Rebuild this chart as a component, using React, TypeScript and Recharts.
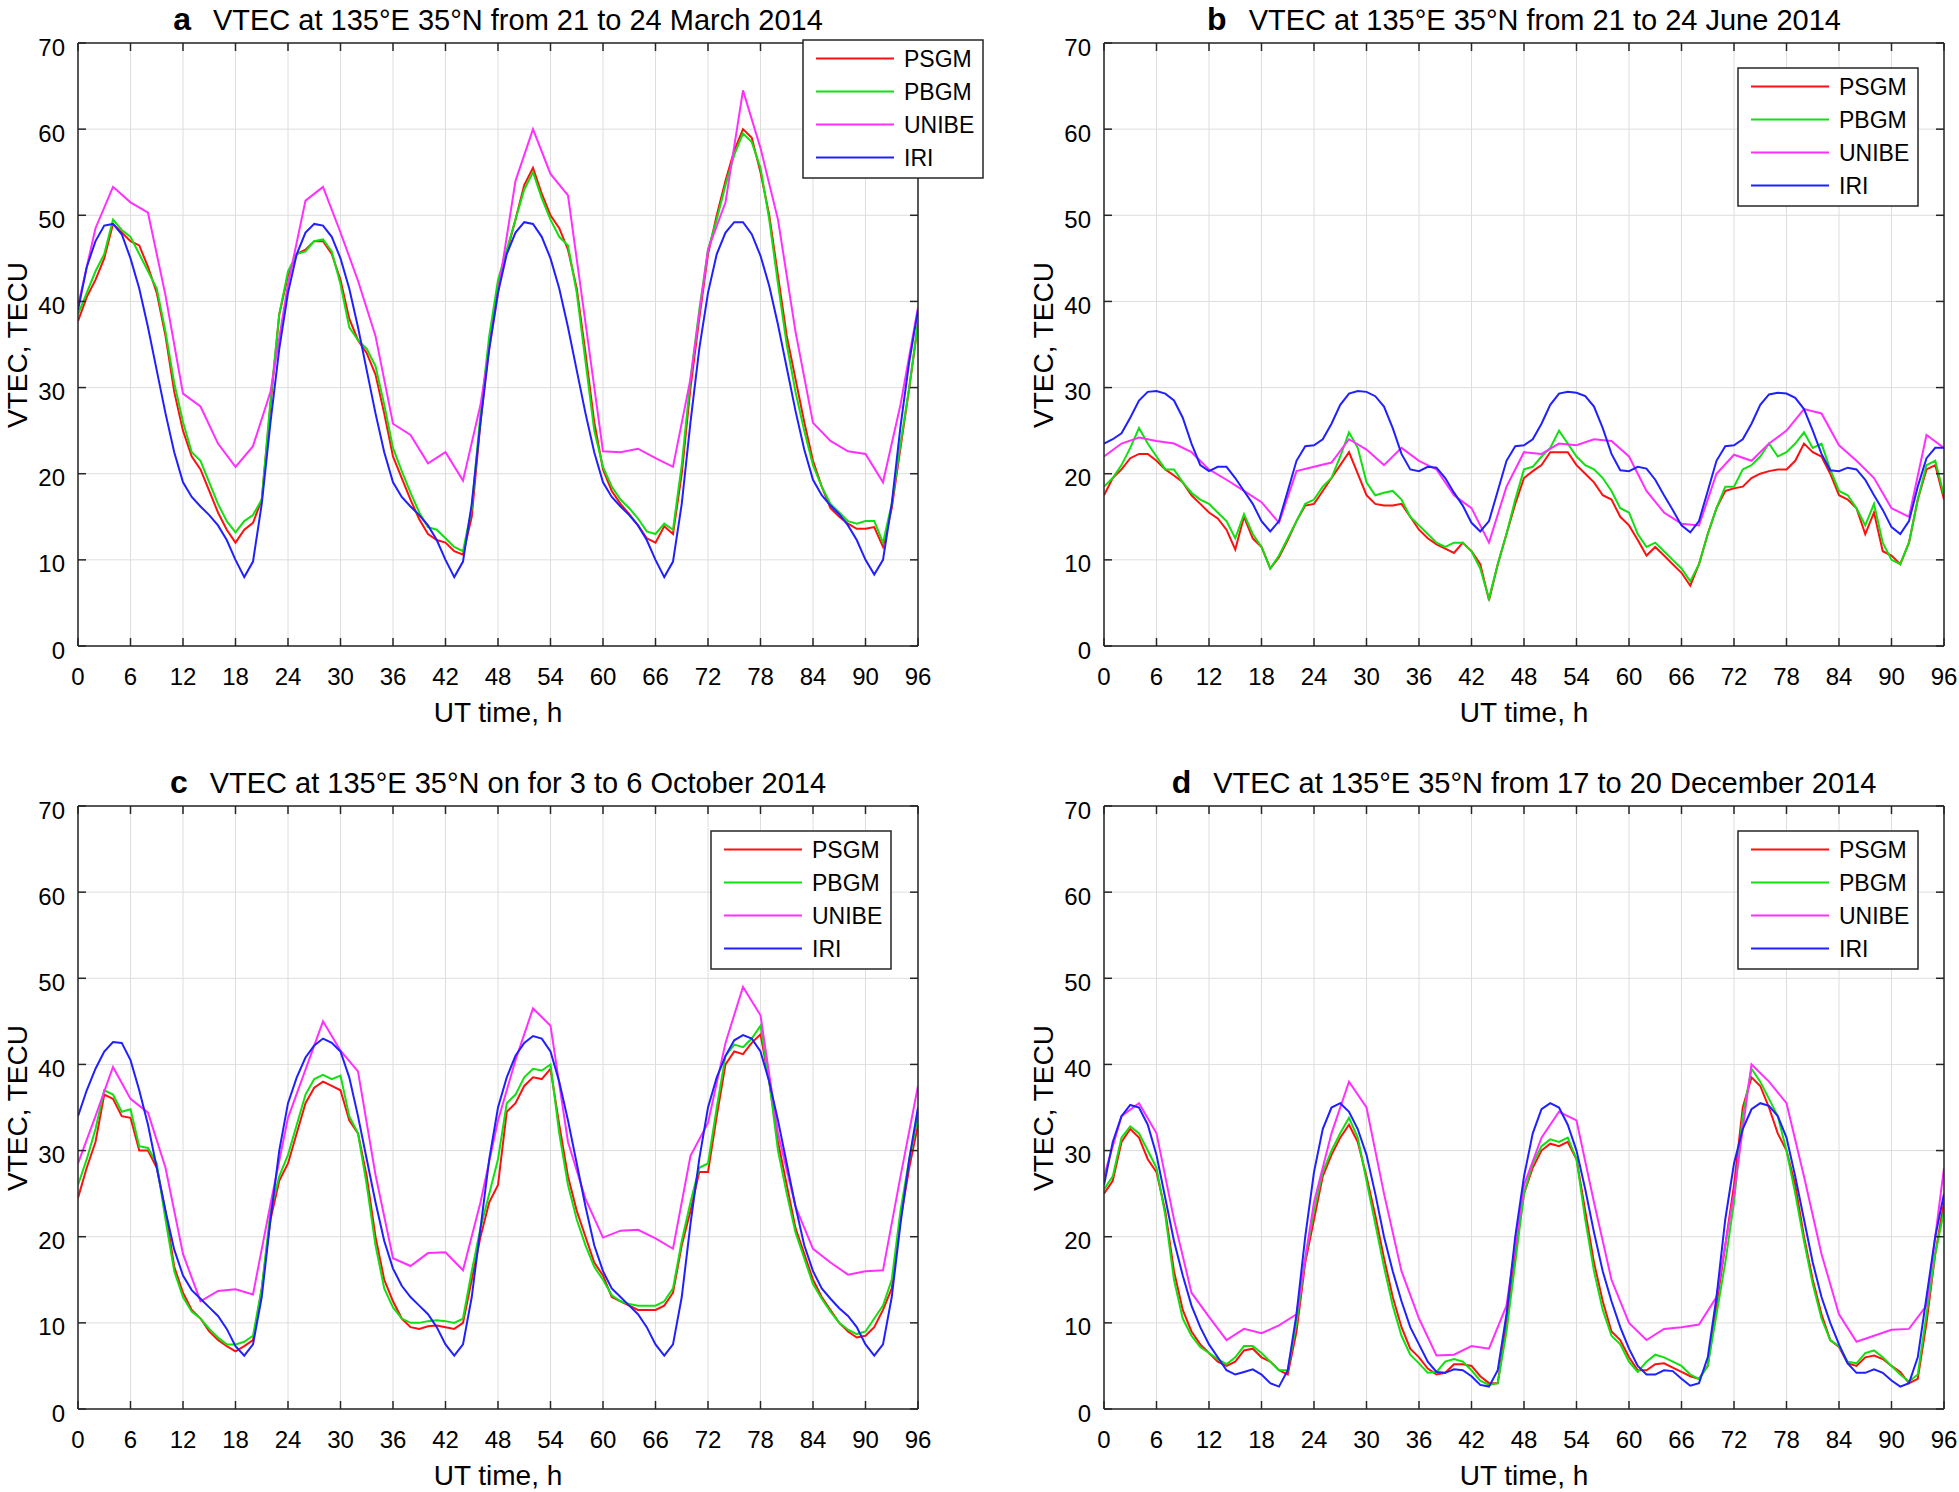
import React from 'react';
import { LineChart, Line, XAxis, YAxis, CartesianGrid } from 'recharts';

// hours 0..96 (hourly samples); UNIBE maps are every 2 h
const HOURS = Array.from({ length: 97 }, (_, i) => i);
const X_TICKS = [0, 6, 12, 18, 24, 30, 36, 42, 48, 54, 60, 66, 72, 78, 84, 90, 96];
const Y_TICKS = [0, 10, 20, 30, 40, 50, 60, 70];

// ---- a: 21-24 March 2014
const A_PSGM = [37.7, 40.5, 42.5, 45, 49, 48, 47, 46.5, 44, 41, 36, 29.5, 25, 22, 20.5, 18, 15.5, 13.5, 12, 13.5, 14.3, 17, 28, 38.5, 43, 45.5, 46, 47, 47, 45.5, 42.5, 38, 35.5, 34, 31.5, 27, 22, 19.5, 17, 14.7, 13, 12.3, 12, 11, 10.6, 15, 26, 35, 42, 45.7, 49.5, 53.5, 55.5, 52.5, 50, 48.5, 46, 41.5, 34, 26, 20.5, 18, 16.5, 15.3, 14, 12.5, 12, 13.9, 13, 20, 30, 38, 45.5, 50, 54, 57.5, 60, 59, 55, 50, 43, 36, 31, 26, 21.5, 18.5, 16, 15, 14.2, 13.6, 13.6, 13.8, 11.5, 16, 23, 30, 37.4];
const A_PBGM = [38.5, 41, 43.5, 45.5, 49.5, 48.3, 47.5, 45.5, 43.5, 41.5, 36.5, 30.5, 26, 22.5, 21.5, 19, 16.5, 14.5, 13.2, 14.5, 15.2, 17, 28.5, 38.5, 43.5, 45.5, 45.8, 47, 47.2, 45.8, 42, 37, 35.5, 34.5, 32.5, 28, 23, 20.3, 17.8, 15.5, 13.8, 13.5, 12.5, 11.5, 11, 16, 27, 36, 42.5, 46, 49.5, 53, 55, 52, 49.5, 47.5, 46.5, 41, 33, 25, 20.8, 18.5, 17, 16, 14.8, 13.3, 13, 14.2, 13.5, 21, 31, 39, 46, 49.5, 53.5, 57, 59.5, 58.5, 55.5, 49.5, 42, 35, 29.5, 25, 21, 18.5, 16.5, 15.5, 14.5, 14.2, 14.5, 14.5, 12, 16.5, 23.5, 30, 37.5];
const A_UNIBE = [39.5, 48.5, 53.3, 51.5, 50.3, 40.7, 29.3, 27.8, 23.5, 20.8, 23.2, 29.5, 42, 51.7, 53.3, 48, 42.4, 36, 25.8, 24.5, 21.2, 22.5, 19.2, 28, 41, 54, 60, 54.8, 52.3, 37.5, 22.6, 22.5, 22.9, 21.8, 20.8, 31, 46, 51.5, 64.5, 57.8, 49.5, 36.5, 25.9, 23.8, 22.6, 22.3, 19, 28, 39.3];
const A_IRI = [39, 44, 47, 48.8, 49, 47.8, 45, 41.5, 37, 32, 27, 22.5, 19, 17.3, 16.2, 15.2, 14, 12.3, 10, 8, 9.8, 16.5, 26, 34.5, 41, 45.5, 48, 49, 48.8, 47.5, 45, 41.5, 37, 32, 27, 22.5, 19, 17.3, 16.2, 15.2, 14, 12.3, 10, 8, 9.8, 16.5, 26, 34.5, 41, 45.5, 48, 49.2, 49, 47.5, 45, 41.5, 37, 32, 27, 22.5, 19, 17.3, 16.2, 15.2, 14, 12.3, 10, 8, 9.8, 16.5, 26, 34.5, 41, 45.5, 48, 49.2, 49.2, 47.8, 45.3, 41.8, 37.3, 32.3, 27.3, 22.8, 19.3, 17.5, 16.3, 15.3, 14, 12.3, 10, 8.3, 10, 16.5, 25.5, 33, 39];

// ---- b: 21-24 June 2014
const B_PSGM = [17.5, 19.5, 20.5, 21.8, 22.3, 22.3, 21.5, 20.5, 19.8, 19, 17.5, 16.5, 15.5, 14.8, 13.5, 11.2, 15, 12.5, 11.5, 9, 10.3, 12.3, 14.5, 16.3, 16.5, 18, 19.5, 21, 22.5, 20, 17.5, 16.5, 16.3, 16.3, 16.5, 15, 13.5, 12.5, 11.8, 11.3, 10.8, 12, 11, 9.5, 5.3, 9.5, 13, 16.5, 19.5, 20.3, 21, 22.5, 22.5, 22.5, 21, 20, 19, 17.5, 17, 15, 14, 12.3, 10.5, 11.5, 10.5, 9.5, 8.5, 7, 9.5, 13, 16, 18, 18.3, 18.5, 19.5, 20, 20.3, 20.5, 20.5, 21.5, 23.5, 22.5, 22, 20, 17.5, 17, 16, 13, 15.5, 11, 10.5, 9.5, 12, 17, 20.5, 21, 17];
const B_PBGM = [18.5, 19.5, 21, 23, 25.3, 23.5, 22, 20.5, 20.5, 19, 17.8, 17, 16.5, 15.5, 14.5, 12.5, 15.3, 13, 11.5, 9, 10.5, 12.5, 14.5, 16.5, 17, 18.5, 19.5, 22, 24.8, 23, 19, 17.5, 17.8, 18, 17, 15, 14, 13, 12, 11.5, 12, 12, 11, 9, 5.5, 9.5, 13, 17, 20.5, 20.8, 22, 23, 25, 23.5, 22, 21, 20.5, 19.5, 18, 16, 15.5, 13, 11.5, 12, 11, 10, 9, 7.5, 9.5, 13, 16, 18.5, 18.5, 20.5, 21, 22, 23.5, 22, 22.5, 23.5, 24.8, 23, 23.5, 20.5, 18, 17.5, 16, 14, 16.5, 12, 10, 9.5, 12, 17, 21, 21.5, 17.5];
const B_UNIBE = [22, 23.5, 24.2, 23.8, 23.5, 22.5, 20.5, 19.3, 18, 16.7, 14.3, 20.3, 20.8, 21.3, 24, 22.8, 21, 23, 21.5, 20.5, 17.5, 16, 12, 18.5, 22.5, 22.3, 23.5, 23.3, 24, 23.8, 22, 18, 15.5, 14.2, 14, 20, 22.2, 21.5, 23.5, 25, 27.5, 27, 23.3, 21.5, 19.5, 16, 15, 24.5, 23];
const B_IRI = [23.5, 24, 24.7, 26.5, 28.5, 29.5, 29.6, 29.3, 28.5, 26.5, 23.5, 21, 20.3, 20.8, 20.8, 19.5, 18, 16.5, 14.5, 13.3, 14.5, 18, 21.5, 23.2, 23.3, 24, 25.8, 28, 29.3, 29.6, 29.5, 29, 27.8, 25.3, 22.3, 20.5, 20.3, 20.8, 20.7, 19.5, 17.8, 16.3, 14.3, 13.3, 14.5, 18, 21.5, 23.2, 23.3, 24, 25.8, 28, 29.3, 29.5, 29.4, 29, 27.8, 25.3, 22.3, 20.4, 20.3, 20.8, 20.6, 19.3, 17.5, 15.8, 14, 13.2, 14.5, 18, 21.5, 23.2, 23.3, 24, 25.8, 28, 29.2, 29.4, 29.3, 28.8, 27.5, 25, 22.3, 20.4, 20.3, 20.7, 20.5, 19.3, 17.5, 15.8, 13.8, 13, 14.5, 18.5, 21.8, 23, 23];

// ---- c: 3-6 October 2014
const C_PSGM = [24.5, 28, 31, 36.5, 36, 34, 33.8, 30, 30, 28, 23, 16.5, 13.5, 11.5, 10.5, 9, 8, 7.3, 6.7, 7.3, 8, 14, 22, 26.5, 28.5, 32, 35.5, 37.3, 38, 37.5, 37, 33.5, 32, 27, 20, 15, 12.5, 10.5, 9.5, 9.3, 9.6, 9.7, 9.5, 9.3, 10, 15, 20, 24, 26, 34.5, 35.5, 37.5, 38.5, 38.3, 39.5, 33, 27, 23, 20, 17, 15.5, 13, 12.5, 12, 11.5, 11.5, 11.5, 12, 13.5, 19, 23, 27.5, 27.5, 34, 40, 41.5, 41.2, 42.5, 43.5, 38, 31, 26, 21, 18, 15, 13, 11.5, 10, 9, 8.3, 8.5, 9.5, 11.5, 14, 22, 28, 33];
const C_PBGM = [26, 29, 32.5, 37, 36.5, 34.5, 34.8, 30.5, 30.3, 28.5, 22, 16, 13, 11.3, 10.5, 9.3, 8.3, 7.5, 7.5, 7.8, 8.5, 14, 23, 27, 29.5, 33, 36.5, 38.3, 38.8, 38.3, 38.7, 34, 32, 26, 19, 14, 11.8, 10.5, 10, 10, 10.2, 10.3, 10.2, 10, 10.5, 16, 21, 25, 29, 35.5, 36.5, 38.5, 39.5, 39.3, 40, 32, 26, 22, 19, 16.5, 15, 13.2, 12.5, 12.2, 12, 12, 12, 12.5, 14, 19.5, 24, 28, 28.5, 35, 41, 42.3, 42, 43, 44.5, 38, 30, 25, 20.5, 17.5, 14.5, 12.8, 11.3, 10, 9.2, 8.7, 9, 10.5, 12, 15, 23, 29, 34];
const C_UNIBE = [28.5, 34, 39.7, 36, 34.4, 28, 18, 12.5, 13.7, 13.9, 13.3, 23.8, 33.8, 39.4, 45, 41.6, 39.2, 27.2, 17.5, 16.6, 18.1, 18.2, 16.1, 24, 33.5, 40.5, 46.5, 44.5, 31, 24.4, 19.9, 20.7, 20.8, 19.8, 18.6, 29.4, 33.2, 42.5, 49, 45.7, 32, 23.5, 18.6, 17, 15.6, 16, 16.1, 27, 37.5];
const C_IRI = [34, 37, 39.5, 41.5, 42.6, 42.5, 40.5, 37, 33, 28, 23, 18.5, 15.5, 13.8, 12.8, 11.8, 10.8, 9.3, 7.3, 6.2, 7.5, 13, 22, 30, 35.5, 38.5, 40.8, 42.2, 43, 42.5, 41.5, 38.5, 34, 29, 24, 19.5, 16.3, 14.3, 13, 12, 11, 9.5, 7.5, 6.2, 7.5, 13, 21, 29, 35, 38.5, 41, 42.5, 43.3, 43, 41.5, 38, 33.5, 28.5, 23.5, 19, 16, 14, 13, 12, 11, 9.5, 7.5, 6.2, 7.5, 13, 21.5, 29, 35, 38.5, 41, 42.8, 43.4, 43, 41.5, 38, 33.5, 28.5, 23.5, 19, 16, 14, 12.8, 11.7, 10.8, 9.5, 7.5, 6.2, 7.5, 13, 21.5, 29, 35];

// ---- d: 17-20 December 2014
const D_PSGM = [25, 26.5, 31, 32.5, 31.5, 29, 27.5, 23, 16, 11.5, 9, 7.5, 6.5, 5.5, 5, 5.5, 6.8, 7, 6, 5.5, 4.5, 4, 9, 17, 22, 27, 29.5, 31.5, 33, 31, 27, 22.5, 17.5, 13, 9.5, 7, 6, 4.7, 4, 4.2, 5.2, 5.2, 5, 3.8, 3, 3, 10, 18, 25, 28, 30, 30.8, 30.5, 31, 29, 23, 17, 12.5, 9, 8, 6, 4.5, 4.5, 5.2, 5.3, 4.8, 4.3, 3.8, 3.5, 5, 12, 19, 26, 35, 38.5, 37.5, 35, 32, 30, 26, 20, 15, 11, 8, 7.2, 5.3, 5, 6, 6.2, 5.8, 5, 4.3, 3, 3.5, 10, 18, 24];
const D_PBGM = [25.5, 27, 31.5, 32.8, 32, 30, 28, 22.5, 15, 10.5, 8.5, 7.2, 6.5, 5.8, 5.2, 6, 7.3, 7.3, 6.5, 5.5, 4.5, 4.5, 10, 17.5, 23, 27.5, 30, 32, 33.8, 31.5, 26.5, 21.5, 16.5, 12, 8.5, 6.3, 5.3, 4.2, 4.3, 5.5, 5.8, 5.5, 4.5, 3.3, 2.8, 3, 9, 17, 25, 28.5, 30.5, 31.3, 31, 31.5, 29, 22, 16, 11.5, 8.5, 7.5, 5.5, 4.3, 5.5, 6.3, 6, 5.5, 5, 4, 3.5, 5, 11, 17, 24, 34, 39.5, 38, 36, 34, 30, 25, 19.5, 14.5, 10.5, 8, 7.3, 5.5, 5.3, 6.5, 6.8, 6, 5, 4, 3.2, 4, 11, 18, 23];
const D_UNIBE = [27, 34, 35.5, 32, 22, 13.5, 10.7, 8, 9.3, 8.8, 9.7, 11, 24, 32, 38, 35, 25, 16, 10.5, 6.2, 6.3, 7.3, 7, 12, 26, 31.5, 34.5, 33.5, 24, 15, 10, 8, 9.3, 9.5, 9.8, 13, 25, 40, 38, 35.5, 27, 18, 11, 7.8, 8.5, 9.2, 9.3, 12, 28];
const D_IRI = [26, 31, 34, 35.3, 35, 33, 29.5, 24.5, 19.5, 15.5, 12, 9.5, 7.5, 6, 4.5, 4, 4.3, 4.6, 4, 3, 2.6, 4.5, 11, 20, 27.5, 32.5, 35, 35.5, 34.5, 32.5, 29.5, 25, 20, 16, 12.5, 9.5, 7.5, 5.5, 4.3, 4.2, 4.6, 4.5, 3.8, 2.8, 2.6, 4.5, 11, 20, 27, 32, 34.8, 35.5, 35, 33, 30, 25.5, 20.5, 16, 12.5, 9.5, 7, 5, 4, 4, 4.5, 4.4, 3.5, 2.7, 3, 6, 13, 22, 28.5, 32.5, 34.8, 35.5, 35.2, 34, 31.5, 27, 22, 17, 13, 10, 7.5, 5.3, 4.2, 4.2, 4.6, 4.2, 3.3, 2.6, 3, 6, 13, 20, 25];

const SERIES = [
  { key: 'psgm', name: 'PSGM', color: '#ff1010' },
  { key: 'pbgm', name: 'PBGM', color: '#10e010' },
  { key: 'unibe', name: 'UNIBE', color: '#ff30ff' },
  { key: 'iri', name: 'IRI', color: '#2020ff' },
];

function buildRows(psgm: number[], pbgm: number[], unibe: number[], iri: number[]) {
  return HOURS.map((t, i) => ({
    t,
    psgm: psgm[i],
    pbgm: pbgm[i],
    unibe: t % 2 === 0 ? unibe[t / 2] : null,
    iri: iri[i],
  }));
}

const PANELS = [
  { id: 'a', ox: 0, oy: 0, title: 'VTEC at 135°E 35°N from 21 to 24 March 2014', rows: buildRows(A_PSGM, A_PBGM, A_UNIBE, A_IRI), legend: { x: 803, y: 40 } },
  { id: 'b', ox: 1026, oy: 0, title: 'VTEC at 135°E 35°N from 21 to 24 June 2014', rows: buildRows(B_PSGM, B_PBGM, B_UNIBE, B_IRI), legend: { x: 1738, y: 68 } },
  { id: 'c', ox: 0, oy: 763, title: 'VTEC at 135°E 35°N on for 3 to 6 October 2014', rows: buildRows(C_PSGM, C_PBGM, C_UNIBE, C_IRI), legend: { x: 711, y: 831 } },
  { id: 'd', ox: 1026, oy: 763, title: 'VTEC at 135°E 35°N from 17 to 20 December 2014', rows: buildRows(D_PSGM, D_PBGM, D_UNIBE, D_IRI), legend: { x: 1738, y: 831 } },
];

const AXIS = '#262626';
const TICK_LEN = 8;
const CHART_W = 933;
const CHART_H = 696;

const BottomTick = (props: any) => {
  const { x, y, payload } = props;
  return (
    <g>
      <line x1={x} y1={y} x2={x} y2={y - TICK_LEN} stroke={AXIS} strokeWidth={1.5} />
      <text x={x} y={y + 39} textAnchor="middle" fontSize={24} fill="#000">{payload.value}</text>
    </g>
  );
};

const LeftTick = (props: any) => {
  const { x, y, payload } = props;
  return (
    <g>
      <line x1={x} y1={y} x2={x + TICK_LEN} y2={y} stroke={AXIS} strokeWidth={1.5} />
      <text x={x - 13} y={y + 12.5} textAnchor="end" fontSize={24} fill="#000">{payload.value}</text>
    </g>
  );
};

const TopTick = (props: any) => (
  <line x1={props.x} y1={props.y} x2={props.x} y2={props.y + TICK_LEN} stroke={AXIS} strokeWidth={1.5} />
);

const RightTick = (props: any) => (
  <line x1={props.x} y1={props.y} x2={props.x - TICK_LEN} y2={props.y} stroke={AXIS} strokeWidth={1.5} />
);

function Panel({ panel }: { panel: any }) {
  return (
    <div style={{ position: 'absolute', left: panel.ox, top: panel.oy }}>
      <LineChart width={CHART_W} height={CHART_H} data={panel.rows} margin={{ top: 42, right: 14, bottom: 0, left: 0 }}>
        <CartesianGrid stroke="#dedede" strokeWidth={1} />
        <XAxis dataKey="t" type="number" domain={[0, 96]} ticks={X_TICKS} interval={0} allowDataOverflow
          height={50} tickSize={0} tickMargin={0} tickLine={false} tick={<BottomTick />}
          axisLine={{ stroke: AXIS, strokeWidth: 1.5 }} />
        <XAxis xAxisId="top" orientation="top" dataKey="t" type="number" domain={[0, 96]} ticks={X_TICKS} interval={0} allowDataOverflow
          height={1} tickSize={0} tickMargin={0} tickLine={false} tick={<TopTick />}
          axisLine={{ stroke: AXIS, strokeWidth: 1.5 }} />
        <YAxis type="number" domain={[0, 70]} ticks={Y_TICKS} interval={0} allowDataOverflow
          width={78} tickSize={0} tickMargin={0} tickLine={false} tick={<LeftTick />}
          axisLine={{ stroke: AXIS, strokeWidth: 1.5 }} />
        <YAxis yAxisId="right" orientation="right" type="number" domain={[0, 70]} ticks={Y_TICKS} interval={0} allowDataOverflow
          width={1} tickSize={0} tickMargin={0} tickLine={false} tick={<RightTick />}
          axisLine={{ stroke: AXIS, strokeWidth: 1.5 }} />
        {SERIES.map(s => (
          <Line key={s.key} type="linear" dataKey={s.key} name={s.name} stroke={s.color} strokeWidth={2}
            dot={false} activeDot={false} connectNulls isAnimationActive={false} />
        ))}
      </LineChart>
    </div>
  );
}

function Labels({ panel }: { panel: any }) {
  const { ox, oy, id, title, legend } = panel;
  return (
    <g>
      <text x={ox + 498} y={oy + 30} textAnchor="middle" fill="#000">
        <tspan fontWeight="bold" fontSize={32}>{id}</tspan>
        <tspan dx={22} fontSize={29}>{title}</tspan>
      </text>
      <text x={ox + 498} y={oy + 722} textAnchor="middle" fontSize={28} fill="#000">UT time, h</text>
      <text transform={`translate(${ox + 27}, ${oy + 345}) rotate(-90)`} textAnchor="middle" fontSize={28} fill="#000">
        VTEC, TECU
      </text>
      <rect x={legend.x} y={legend.y} width={180} height={138} fill="#fff" stroke={AXIS} strokeWidth={1.5} />
      {SERIES.map((s, i) => {
        const ry = legend.y + 18.5 + i * 33;
        return (
          <g key={s.key}>
            <line x1={legend.x + 13} y1={ry} x2={legend.x + 91} y2={ry} stroke={s.color} strokeWidth={2} />
            <text x={legend.x + 101} y={ry + 8} fontSize={23} fill="#000">{s.name}</text>
          </g>
        );
      })}
    </g>
  );
}

export default function App() {
  return (
    <div style={{ position: 'relative', width: 1959, height: 1492, background: '#fff', fontFamily: 'Arial, "Liberation Sans", Helvetica, sans-serif' }}>
      <style>{'body{margin:0}'}</style>
      {PANELS.map(p => <Panel key={p.id} panel={p} />)}
      <svg width={1959} height={1492} style={{ position: 'absolute', left: 0, top: 0, pointerEvents: 'none' }}>
        {PANELS.map(p => <Labels key={p.id} panel={p} />)}
      </svg>
    </div>
  );
}
